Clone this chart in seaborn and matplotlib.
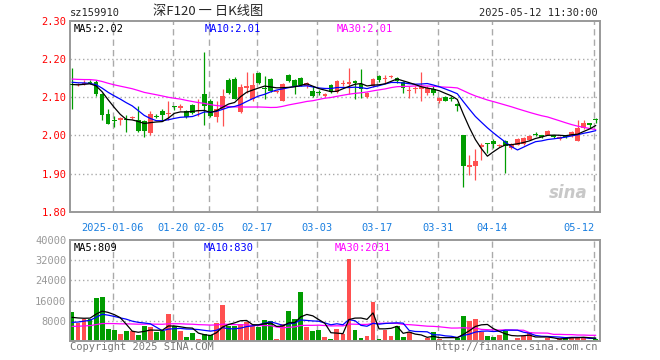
import numpy as np
import pandas as pd
import matplotlib
matplotlib.use("Agg")
import matplotlib.pyplot as plt
import seaborn as sns

# x axis: trading-day index -> date label (left edge of that day's slot)
tick_idx = [7, 17, 23, 31, 41, 51, 61, 70, 87]
tick_labels = ["2025-01-06", "01-20", "02-05", "02-17", "03-03",
               "03-17", "03-31", "04-14", "05-12"]

# daily K line, 2024-12-25 .. 2025-05-12 (88 sessions)
opens = [2.134, 2.132, 2.134, 2.141, 2.141, 2.107, 2.057, 2.040, 2.039, 2.042,
         2.045, 2.041, 2.037, 2.005, 2.051, 2.065, 2.055, 2.075, 2.072, 2.065,
         2.080, 2.063, 2.107, 2.091, 2.048, 2.070, 2.144, 2.148, 2.060, 2.125,
         2.095, 2.162, 2.124, 2.148, 2.113, 2.091, 2.157, 2.146, 2.150, 2.128,
         2.115, 2.112, 2.102, 2.133, 2.113, 2.135, 2.135, 2.142, 2.135, 2.101,
         2.128, 2.155, 2.148, 2.152, 2.150, 2.140, 2.117, 2.122, 2.122, 2.110,
         2.121, 2.089, 2.100, 2.096, 2.082, 2.001, 1.918, 1.919, 1.970, 1.979,
         1.986, 1.973, 1.986, 1.967, 1.976, 1.977, 1.989, 2.004, 2.000, 2.002,
         2.000, 1.990, 2.000, 1.997, 1.985, 2.019, 2.032, 2.042]
highs = [2.176, 2.137, 2.146, 2.146, 2.146, 2.110, 2.069, 2.050, 2.048, 2.054,
         2.050, 2.076, 2.041, 2.063, 2.055, 2.068, 2.091, 2.078, 2.082, 2.066,
         2.081, 2.095, 2.219, 2.095, 2.090, 2.122, 2.150, 2.152, 2.135, 2.165,
         2.163, 2.165, 2.156, 2.150, 2.118, 2.137, 2.160, 2.148, 2.152, 2.140,
         2.128, 2.120, 2.112, 2.135, 2.145, 2.145, 2.176, 2.145, 2.174, 2.113,
         2.150, 2.157, 2.159, 2.158, 2.152, 2.142, 2.130, 2.128, 2.167, 2.128,
         2.128, 2.100, 2.102, 2.102, 2.085, 2.001, 1.949, 1.965, 1.980, 1.981,
         1.990, 1.978, 1.987, 1.980, 1.992, 1.995, 2.000, 2.009, 2.002, 2.014,
         2.002, 1.997, 2.001, 2.012, 2.041, 2.041, 2.033, 2.045]
lows = [2.068, 2.129, 2.131, 2.135, 2.104, 2.041, 2.030, 2.022, 2.026, 2.008,
        2.043, 2.010, 1.996, 2.002, 2.046, 2.037, 2.041, 2.066, 2.067, 2.046,
        2.057, 2.050, 2.026, 2.048, 2.035, 2.025, 2.108, 2.094, 2.058, 2.111,
        2.090, 2.135, 2.095, 2.113, 2.110, 2.089, 2.140, 2.107, 2.130, 2.125,
        2.100, 2.105, 2.100, 2.111, 2.111, 2.130, 2.107, 2.094, 2.098, 2.098,
        2.126, 2.140, 2.138, 2.150, 2.137, 2.111, 2.097, 2.110, 2.089, 2.106,
        2.106, 2.085, 2.090, 2.089, 2.063, 1.866, 1.897, 1.882, 1.935, 1.955,
        1.967, 1.970, 1.901, 1.964, 1.975, 1.976, 1.987, 1.997, 1.994, 2.000,
        1.994, 1.988, 1.993, 1.995, 1.984, 2.017, 2.019, 2.032]
closes = [2.131, 2.135, 2.137, 2.137, 2.107, 2.054, 2.031, 2.038, 2.046, 2.040,
          2.047, 2.011, 2.011, 2.057, 2.049, 2.052, 2.057, 2.073, 2.076, 2.048,
          2.059, 2.067, 2.076, 2.050, 2.070, 2.104, 2.110, 2.096, 2.126, 2.128,
          2.133, 2.137, 2.121, 2.115, 2.116, 2.135, 2.142, 2.128, 2.133, 2.137,
          2.104, 2.110, 2.108, 2.113, 2.142, 2.137, 2.140, 2.137, 2.122, 2.111,
          2.148, 2.144, 2.150, 2.154, 2.142, 2.124, 2.120, 2.125, 2.126, 2.124,
          2.110, 2.099, 2.091, 2.094, 2.076, 1.919, 1.922, 1.934, 1.975, 1.977,
          1.977, 1.975, 1.971, 1.977, 1.990, 1.993, 1.997, 2.002, 1.996, 2.012,
          1.996, 1.995, 1.995, 2.010, 2.019, 2.032, 2.028, 2.040]
volumes = [11600, 7000, 8500, 8800, 17000, 17600, 4500, 4200, 2700, 3900,
           3700, 2300, 5900, 5500, 3500, 3700, 10700, 5900, 3900, 1500,
           3100, 700, 2700, 2400, 7000, 14300, 5900, 5900, 6700, 7500,
           5900, 5500, 8300, 8000, 700, 6700, 11900, 8700, 19500, 5500,
           3900, 4300, 1500, 700, 4700, 2800, 32400, 4400, 900, 2000,
           15600, 700, 4400, 2000, 6000, 1600, 3300, 300, 300, 1200,
           3600, 700, 300, 300, 1200, 10000, 8000, 8800, 3600, 2000,
           1600, 2400, 4000, 300, 1200, 2000, 3600, 300, 300, 1200,
           300, 1200, 1600, 1600, 1200, 1200, 300, 700]

# sessions before the window (not drawn), only to start the moving averages
hist_close = [2.16, 2.15, 2.14, 2.15, 2.16, 2.17, 2.16, 2.15, 2.14, 2.15,
              2.15, 2.16, 2.15, 2.14, 2.15, 2.16, 2.15, 2.14, 2.15, 2.15,
              2.15, 2.14, 2.15, 2.14, 2.145, 2.14, 2.13, 2.13, 2.135]
hist_vol = [5200, 4600, 4800, 5400, 4300, 5000, 4700, 5600, 4400, 5100,
            4800, 5300, 4500, 5000, 4900, 4600, 5200, 4700, 5000, 4800,
            5600, 5000, 5400, 5100, 5400, 8200, 9100, 8500, 9100]

RED = "#ff5050"
GREEN = "#009c00"
GRID = "#aaaaaa"
BORDER = "#999999"

sns.set_style("white")
plt.rcParams["font.family"] = ["DejaVu Sans Mono", "Noto Sans CJK SC"]

n = len(closes)
x = np.arange(n)
df = pd.DataFrame({"x": x, "open": opens, "high": highs, "low": lows,
                   "close": closes, "vol": volumes})
up = df["close"] >= df["open"]
colors = np.where(up, RED, GREEN)

all_close = pd.Series(hist_close + closes)
all_vol = pd.Series(hist_vol + volumes)
for w in (5, 10, 30):
    df[f"ma{w}"] = all_close.rolling(w).mean().iloc[-n:].values
    df[f"vma{w}"] = all_vol.rolling(w).mean().iloc[-n:].values

W, H = 660, 360
fig = plt.figure(figsize=(W / 100, H / 100), dpi=100)
left, right = 70.4, 600.4
ax1 = fig.add_axes([left / W, 1 - 211.7 / H, (right - left) / W, (211.7 - 20.8) / H])
ax2 = fig.add_axes([left / W, 1 - 340.7 / H, (right - left) / W, (340.7 - 240.3) / H])

xlim = (-0.27, n - 1 + 0.77)
vlines_x = [i - 0.27 for i in tick_idx]

# ---- price panel
for y in [1.9, 2.0, 2.1, 2.2]:
    ax1.axhline(y, color=GRID, lw=1, ls=(0, (1, 2)), zorder=0)
for xv in vlines_x:
    ax1.axvline(xv, color=GRID, lw=1, ls=(0, (4.5, 3)), zorder=0)

ax1.vlines(df["x"], df["low"], df["high"], colors=colors, lw=0.9, zorder=2)
body = (df["close"] - df["open"]).abs().clip(lower=0.0026)
ax1.bar(df["x"], body, bottom=df[["open", "close"]].min(axis=1), width=0.78,
        color=colors, linewidth=0, zorder=3)

sns.lineplot(data=df, x="x", y="ma30", ax=ax1, color="#ff00ff", lw=0.9, zorder=4)
sns.lineplot(data=df, x="x", y="ma10", ax=ax1, color="#0000ff", lw=0.9, zorder=4)
sns.lineplot(data=df, x="x", y="ma5", ax=ax1, color="black", lw=0.9, zorder=4)

ax1.set_xlim(*xlim)
ax1.set_ylim(1.80, 2.30)
ax1.set_yticks([1.8, 1.9, 2.0, 2.1, 2.2, 2.3])
ax1.set_yticklabels(["1.80", "1.90", "2.00", "2.10", "2.20", "2.30"])
ax1.set_xticks(vlines_x)
ax1.set_xticklabels(tick_labels)
ax1.tick_params(axis="y", length=0, pad=3, labelsize=7.5, labelcolor="red")
ax1.tick_params(axis="x", length=0, pad=8, labelsize=7.5, labelcolor="#1a7fe0")
ax1.get_xticklabels()[-1].set_horizontalalignment("right")
ax1.set_xlabel("")
ax1.set_ylabel("")

ax1.text(0.006, 0.985, "MA5:2.02", transform=ax1.transAxes, ha="left", va="top",
         fontsize=7.5, color="black")
ax1.text((205 - left) / (right - left), 0.985, "MA10:2.01", transform=ax1.transAxes,
         ha="left", va="top", fontsize=7.5, color="#0000ff")
ax1.text((337 - left) / (right - left), 0.985, "MA30:2.01", transform=ax1.transAxes,
         ha="left", va="top", fontsize=7.5, color="#ff00ff")
ax1.text(0.975, 0.1, "sina", transform=ax1.transAxes, ha="right", va="center",
         fontsize=12, fontweight="bold", style="italic", color="#c8c8c8",
         family=["DejaVu Sans"])

# ---- volume panel
for y in [8000, 16000, 24000, 32000]:
    ax2.axhline(y, color=GRID, lw=1, ls=(0, (1, 2)), zorder=0)
for xv in vlines_x:
    ax2.axvline(xv, color=GRID, lw=1, ls=(0, (4.5, 3)), zorder=0)

ax2.bar(df["x"], df["vol"], width=0.8, color=colors, linewidth=0, zorder=2)
sns.lineplot(data=df, x="x", y="vma30", ax=ax2, color="#ff00ff", lw=0.9, zorder=3)
sns.lineplot(data=df, x="x", y="vma10", ax=ax2, color="#0000ff", lw=0.9, zorder=3)
sns.lineplot(data=df, x="x", y="vma5", ax=ax2, color="black", lw=0.9, zorder=3)

ax2.set_xlim(*xlim)
ax2.set_ylim(0, 40000)
ax2.set_yticks([8000, 16000, 24000, 32000, 40000])
ax2.set_yticklabels(["8000", "16000", "24000", "32000", "40000"])
ax2.set_xticks([])
ax2.tick_params(axis="y", length=0, pad=3, labelsize=7.5, labelcolor="#999999")
ax2.set_xlabel("")
ax2.set_ylabel("")

ax2.text(0.006, 0.97, "MA5:809", transform=ax2.transAxes, ha="left", va="top",
         fontsize=7.5, color="black")
ax2.text((204 - left) / (right - left), 0.97, "MA10:830", transform=ax2.transAxes,
         ha="left", va="top", fontsize=7.5, color="#0000ff")
ax2.text((335 - left) / (right - left), 0.97, "MA30:2031", transform=ax2.transAxes,
         ha="left", va="top", fontsize=7.5, color="#ff00ff")

for ax in (ax1, ax2):
    for s in ax.spines.values():
        s.set_color(BORDER)
        s.set_linewidth(1.4)

# ---- header / footer
fig.text(70 / W, 1 - 13 / H, "sz159910", ha="left", va="center", fontsize=7.5)
fig.text(208 / W, 1 - 12 / H, "深F120 一 日K线图", ha="center", va="center",
         fontsize=9.5, family=["Noto Sans CJK SC", "DejaVu Sans"])
fig.text(598 / W, 1 - 13 / H, "2025-05-12 11:30:00", ha="right", va="center",
         fontsize=7.5)
fig.text(70 / W, 1 - 347 / H, "Copyright 2025 SINA.COM", ha="left", va="center",
         fontsize=7.5, color="#777777")
fig.text(598 / W, 1 - 347 / H, "http://finance.sina.com.cn", ha="right", va="center",
         fontsize=7.5, color="#777777")

fig.savefig("out.png", dpi=100)
